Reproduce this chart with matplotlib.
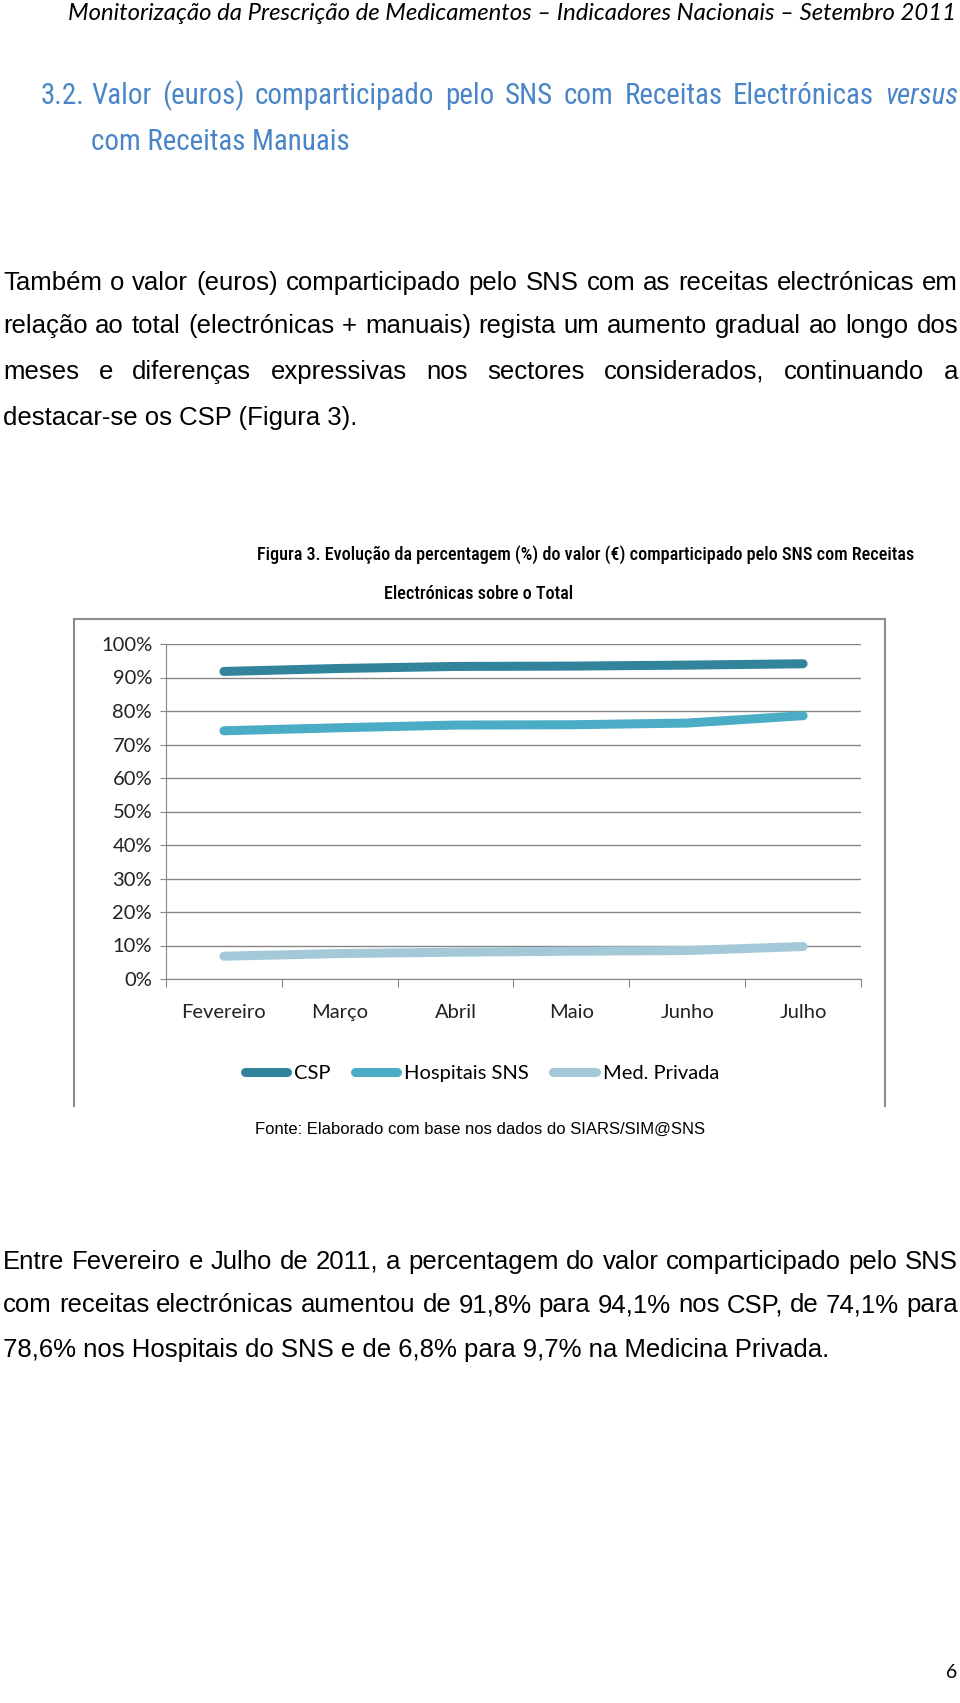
import matplotlib
matplotlib.use('Agg')
import matplotlib.pyplot as plt
from matplotlib.lines import Line2D
from matplotlib import font_manager as fm

# chart data (percent of SNS value with electronic prescriptions)
months = ['Fevereiro', 'Março', 'Abril', 'Maio', 'Junho', 'Julho']
csp = [91.8, 92.7, 93.3, 93.4, 93.7, 94.1]
hospitais = [74.1, 75.0, 75.8, 75.9, 76.4, 78.6]
med_privada = [6.8, 7.6, 8.0, 8.3, 8.5, 9.7]
series_names = ['CSP', 'Hospitais SNS', 'Med. Privada']
series_colors = ['#31849b', '#4bacc6', '#a3c9d8']
yticks = list(range(0, 101, 10))

header = 'Monitorização da Prescrição de Medicamentos – Indicadores Nacionais – Setembro 2011'
heading1 = ['Valor', '(euros)', 'comparticipado', 'pelo', 'SNS', 'com', 'Receitas', 'Electrónicas', 'versus']
heading2 = 'com Receitas Manuais'
para1 = ['Também o valor (euros) comparticipado pelo SNS com as receitas electrónicas em',
         'relação ao total (electrónicas + manuais) regista um aumento gradual ao longo dos',
         'meses e diferenças expressivas nos sectores considerados, continuando a',
         'destacar-se os CSP (Figura 3).']
caption = ['Figura 3. Evolução da percentagem (%) do valor (€) comparticipado pelo SNS com Receitas',
           'Electrónicas sobre o Total']
fonte = 'Fonte: Elaborado com base nos dados do SIARS/SIM@SNS'
para2 = ['Entre Fevereiro e Julho de 2011, a percentagem do valor comparticipado pelo SNS',
         'com receitas electrónicas aumentou de 91,8% para 94,1% nos CSP, de 74,1% para',
         '78,6% nos Hospitais do SNS e de 6,8% para 9,7% na Medicina Privada.']

W, H = 960, 1703
fig = plt.figure(figsize=(9.6, 17.03), dpi=100)
renderer = fig.canvas.get_renderer()

BODY = ['Liberation Sans', 'DejaVu Sans']
CAL = ['Lato', 'DejaVu Sans']


def num(v, table):
    return v if isinstance(v, (int, float)) else table.get(str(v).lower(), 400)


def condensed(weight=400, style='normal'):
    stretches = {'ultra-condensed': 100, 'extra-condensed': 200, 'condensed': 300,
                 'semi-condensed': 400, 'normal': 500}
    weights = {'normal': 400, 'regular': 400, 'book': 400, 'medium': 500, 'semibold': 600,
               'bold': 700, 'light': 300}
    prefs = ['Liberation Sans Narrow', 'Roboto Condensed', 'Open Sans Condensed', 'Noto Sans',
             'DejaVu Sans', 'Roboto', 'Open Sans', 'Inter', 'Lato']
    best = None
    for f in fm.fontManager.ttflist:
        st = num(f.stretch, stretches)
        narrow = 'Narrow' in f.name or 'Condensed' in f.name or st < 500
        if not narrow or f.style != style:
            continue
        rank = prefs.index(f.name) if f.name in prefs else len(prefs)
        wt = num(f.weight, weights)
        score = (abs(wt - weight), wt, rank, abs(st - 300))
        if best is None or score < best[0]:
            best = (score, f.fname)
    if best is None:
        return fm.FontProperties(family='Liberation Sans', weight=weight, style=style)
    return fm.FontProperties(fname=best[1])


NARROW = condensed(400)
NARROW_IT = condensed(400, 'italic')
NARROW_M = condensed(500)


def fx(px):
    return px / W


def fy(py):
    return 1 - py / H


def width_of(s, size, **kw):
    t = fig.text(0, 0, s, fontsize=size, **kw)
    w = t.get_window_extent(renderer).width
    t.remove()
    return w


def fit(s, target, **kw):
    return 10 * target / width_of(s, 10, **kw)


def justify(words, x0, x1, y, size, **kw):
    items = []
    for w in words:
        s, extra = w if isinstance(w, tuple) else (w, {})
        t = fig.text(0, fy(y), s, fontsize=size, va='center', ha='left', **{**kw, **extra})
        items.append((t, t.get_window_extent(renderer).width))
    gap = (x1 - x0 - sum(w for _, w in items)) / (len(items) - 1)
    x = x0
    for t, w in items:
        t.set_x(fx(x))
        x += w + gap


# page header
hs = fit(header, 889, family=CAL, style='italic')
fig.text(fx(956), fy(14), header, fontsize=hs, family=CAL, style='italic', ha='right', va='center')

# section heading
blue = '#4a85c8'
hd = fit(heading2, 258, fontproperties=NARROW)
fig.text(fx(41), fy(96), '3.2.', fontsize=hd, fontproperties=NARROW, color=blue, va='center')
words = heading1[:-1] + [(heading1[-1], {'fontproperties': NARROW_IT})]
justify(words, 91, 958, 96, hd, fontproperties=NARROW, color=blue)
fig.text(fx(91), fy(142), heading2, fontsize=hd, fontproperties=NARROW, color=blue, va='center')

# first paragraph
bs = fit(para1[1], 952, family=BODY)
for i, (line, y) in enumerate(zip(para1, [283, 326, 372, 418])):
    if i < len(para1) - 1:
        justify(line.split(), 3, 958, y, bs, family=BODY)
    else:
        fig.text(fx(3), fy(y), line, fontsize=bs, family=BODY, va='center')

# figure caption
cs = fit(caption[0], 651, fontproperties=NARROW_M)
fig.text(fx(586), fy(555), caption[0], fontsize=cs, fontproperties=NARROW_M, ha='center', va='center')
fig.text(fx(479), fy(594), caption[1], fontsize=cs, fontproperties=NARROW_M, ha='center', va='center')

# chart frame (no bottom edge)
fc = '#8c8c8c'
fig.add_artist(Line2D([fx(74), fx(885)], [fy(619), fy(619)], color=fc, lw=1.5))
fig.add_artist(Line2D([fx(74), fx(74)], [fy(619), fy(1106)], color=fc, lw=1.5))
fig.add_artist(Line2D([fx(885), fx(885)], [fy(619), fy(1106)], color=fc, lw=1.5))

ax = fig.add_axes([fx(166), fy(979), fx(861) - fx(166), (979 - 644) / H])
x = list(range(len(months)))
handles = []
for vals, name, col in zip([csp, hospitais, med_privada], series_names, series_colors):
    h, = ax.plot(x, vals, color=col, lw=6.5, solid_capstyle='round', solid_joinstyle='round',
                 label=name, zorder=3)
    handles.append(h)

ax.set_xlim(-0.5, len(months) - 0.5)
ax.set_ylim(0, 100)
ax.set_yticks(yticks)
ax.set_yticklabels([f'{v}%' for v in yticks], family=CAL, fontsize=14.5, color='#222222')
ax.yaxis.grid(True, color='#868686', lw=1)
ax.set_axisbelow(True)
ax.set_xticks([i - 0.5 for i in range(len(months) + 1)])
ax.set_xticklabels([])
ax.set_xticks(x, minor=True)
ax.set_xticklabels(months, minor=True, family=CAL, fontsize=14.5, color='#222222')
ax.tick_params(axis='x', which='major', length=6, color='#868686', direction='out')
ax.tick_params(axis='x', which='minor', length=0, pad=18)
ax.tick_params(axis='y', length=4, color='#868686', pad=6)
for sp in ['top', 'right']:
    ax.spines[sp].set_visible(False)
for sp in ['left', 'bottom']:
    ax.spines[sp].set_color('#868686')

fig.legend(handles=handles, loc='center', bbox_to_anchor=(fx(482), fy(1073)), ncol=3, frameon=False,
           prop={'family': CAL, 'size': 14.5}, handlelength=2.1, handletextpad=0.35, columnspacing=1.2)

fig.text(fx(480), fy(1129), fonte, fontsize=fit(fonte, 448, family=BODY), family=BODY,
         ha='center', va='center')

# second paragraph
for i, (line, y) in enumerate(zip(para2, [1262, 1305, 1350])):
    if i < len(para2) - 1:
        justify(line.split(), 3, 958, y, bs, family=BODY)
    else:
        fig.text(fx(3), fy(y), line, fontsize=bs, family=BODY, va='center')

fig.text(fx(957), fy(1672), '6', fontsize=14, family=CAL, ha='right', va='center')

fig.savefig('out.png', dpi=100)
